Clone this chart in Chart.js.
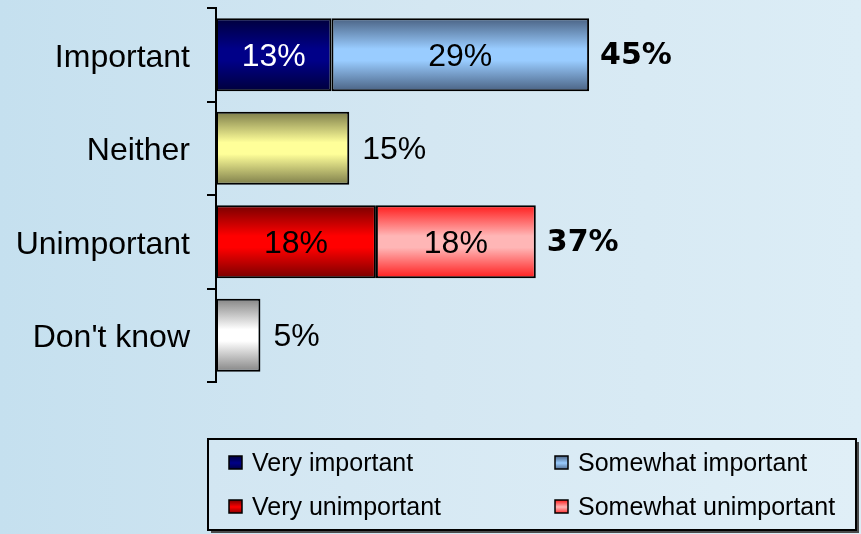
<!DOCTYPE html>
<html>
<head>
<meta charset="utf-8">
<script src="https://cdn.jsdelivr.net/npm/chart.js@4"></script>
<style>
    html, body { margin: 0; padding: 0; }
    body {
        width: 861px;
        height: 534px;
        background: linear-gradient(to right, #c5e0ef 0%, #d4e7f2 50%, #dcedf6 100%);
        overflow: hidden;
    }
    .chart-box { position: relative; width: 861px; height: 534px; }
</style>
</head>
<body>
<div class="chart-box"><canvas id="barChart"></canvas></div>
<script>
//============================================= Data =============================================//
const categories = ['Important', 'Neither', 'Unimportant', "Don't know"];
const veryImportant = [13, null, null, null];
const somewhatImportant = [29, null, null, null];
const neither = [null, 15, null, null];
const veryUnimportant = [null, null, 18, null];
const somewhatUnimportant = [null, null, 18, null];
const dontKnow = [null, null, null, 5];
const totalLabels = ['45%', '', '37%', ''];

//============================================= Styles =============================================//
const FONT = '"Liberation Sans", Arial, sans-serif';
const BOLD_FONT = '"DejaVu Sans", sans-serif';
const BAR_PCT = 0.78;

// edge / centre colours of the metallic gradient
const shades = {
    veryImportant: ['#00003c', '#000088'],
    somewhatImportant: ['#4a6283', '#99ccff'],
    neither: ['#7d7d4a', '#ffff99'],
    veryUnimportant: ['#780000', '#ff0000'],
    somewhatUnimportant: ['#ff1c1c', '#ffb6b6'],
    dontKnow: ['#858585', '#ffffff']
};

function barGradient(ctx, shade) {
    const chart = ctx.chart;
    const yScale = chart.scales.y;
    if (!chart.chartArea || !yScale) return shade[1];
    const yc = yScale.getPixelForValue(ctx.dataIndex);
    const half = (yScale.height / categories.length) * BAR_PCT / 2;
    const g = chart.ctx.createLinearGradient(0, yc - half, 0, yc + half);
    g.addColorStop(0, shade[0]);
    g.addColorStop(0.42, shade[1]);
    g.addColorStop(0.58, shade[1]);
    g.addColorStop(1, shade[0]);
    return g;
}

function makeDataset(label, data, shade, textColor, inside, inLegend) {
    return {
        label: label,
        data: data,
        backgroundColor: (ctx) => barGradient(ctx, shade),
        borderColor: '#000',
        borderWidth: 2,
        borderSkipped: false,
        categoryPercentage: 1,
        barPercentage: BAR_PCT,
        shade: shade,
        textColor: textColor,
        inside: inside,
        inLegend: inLegend
    };
}

const barData = {
    labels: categories,
    datasets: [
        makeDataset('Very important', veryImportant, shades.veryImportant, '#fff', true, true),
        makeDataset('Somewhat important', somewhatImportant, shades.somewhatImportant, '#000', true, true),
        makeDataset('Neither', neither, shades.neither, '#000', false, false),
        makeDataset('Very unimportant', veryUnimportant, shades.veryUnimportant, '#000', true, true),
        makeDataset('Somewhat unimportant', somewhatUnimportant, shades.somewhatUnimportant, '#000', true, true),
        makeDataset("Don't know", dontKnow, shades.dontKnow, '#000', false, false)
    ]
};

//============================================= Value labels =============================================//
const valueLabels = {
    id: 'valueLabels',
    afterDatasetsDraw(chart) {
        const { ctx } = chart;
        const ends = categories.map(() => null);
        ctx.save();
        ctx.textBaseline = 'middle';
        chart.data.datasets.forEach((ds, di) => {
            const meta = chart.getDatasetMeta(di);
            meta.data.forEach((el, i) => {
                const v = ds.data[i];
                if (v === null || v === undefined) return;
                ends[i] = Math.max(ends[i] || 0, el.x);
                ctx.font = '32px ' + FONT;
                ctx.fillStyle = ds.textColor;
                if (ds.inside) {
                    ctx.textAlign = 'center';
                    ctx.fillText(v + '%', (el.x + el.base) / 2, el.y + 2);
                } else {
                    ctx.textAlign = 'left';
                    ctx.fillText(v + '%', el.x + 13, el.y + 2);
                }
            });
        });
        ctx.font = 'bold 30px ' + BOLD_FONT;
        ctx.fillStyle = '#000';
        ctx.textAlign = 'left';
        totalLabels.forEach((t, i) => {
            if (!t || ends[i] === null) return;
            const y = chart.scales.y.getPixelForValue(i);
            ctx.fillText(t, ends[i] + 11, y + 1);
        });
        ctx.restore();
    }
};

//============================================= Legend box =============================================//
const boxLegend = {
    id: 'boxLegend',
    afterDraw(chart) {
        const { ctx } = chart;
        const x0 = 208, y0 = 439, w = 648, h = 91;
        ctx.save();
        // shadow
        ctx.fillStyle = '#4a4a4a';
        ctx.fillRect(x0 + 3, y0 + 3, w, h);
        const bg = ctx.createLinearGradient(x0, 0, x0 + w, 0);
        bg.addColorStop(0, '#d2e6f2');
        bg.addColorStop(1, '#e0eff7');
        ctx.fillStyle = bg;
        ctx.fillRect(x0, y0, w, h);
        ctx.strokeStyle = '#000';
        ctx.lineWidth = 2;
        ctx.strokeRect(x0, y0, w, h);

        const items = chart.data.datasets.filter(ds => ds.inLegend);
        const cols = [229, 555];
        const rows = [463, 507];
        ctx.font = '25px ' + FONT;
        ctx.textBaseline = 'middle';
        ctx.textAlign = 'left';
        items.forEach((ds, k) => {
            const x = cols[k % 2];
            const y = rows[Math.floor(k / 2)];
            const g = ctx.createLinearGradient(0, y - 7, 0, y + 7);
            g.addColorStop(0, ds.shade[0]);
            g.addColorStop(0.5, ds.shade[1]);
            g.addColorStop(1, ds.shade[0]);
            ctx.fillStyle = g;
            ctx.fillRect(x, y - 7, 13, 13);
            ctx.lineWidth = 1.5;
            ctx.strokeStyle = '#000';
            ctx.strokeRect(x, y - 7, 13, 13);
            ctx.fillStyle = '#000';
            ctx.fillText(ds.label, x + 23, y + 1);
        });
        ctx.restore();
    }
};

//============================================= Bar chart =============================================//
const barConfig = {
    type: 'bar',
    data: barData,
    options: {
        indexAxis: 'y',
        responsive: true,
        maintainAspectRatio: false,
        animation: false,
        events: [],
        layout: {
            padding: { top: 8, bottom: 152, right: 112, left: 0 }
        },
        plugins: {
            legend: { display: false },
            tooltip: { enabled: false },
            title: { display: false }
        },
        scales: {
            x: {
                display: false,
                stacked: true,
                min: 0,
                max: 60
            },
            y: {
                stacked: true,
                offset: true,
                afterFit: (scale) => {
                    scale.width = 216;
                    scale.paddingTop = 0;
                    scale.paddingBottom = 0;
                },
                grid: {
                    offset: true,
                    drawOnChartArea: false,
                    tickLength: 9,
                    color: '#000',
                    lineWidth: 2
                },
                border: { display: true, color: '#000', width: 2 },
                ticks: {
                    color: '#000',
                    padding: 17,
                    labelOffset: 3,
                    font: { family: FONT, size: 32 }
                }
            }
        }
    },
    plugins: [valueLabels, boxLegend]
};

new Chart(document.getElementById('barChart'), barConfig);
</script>
</body>
</html>
